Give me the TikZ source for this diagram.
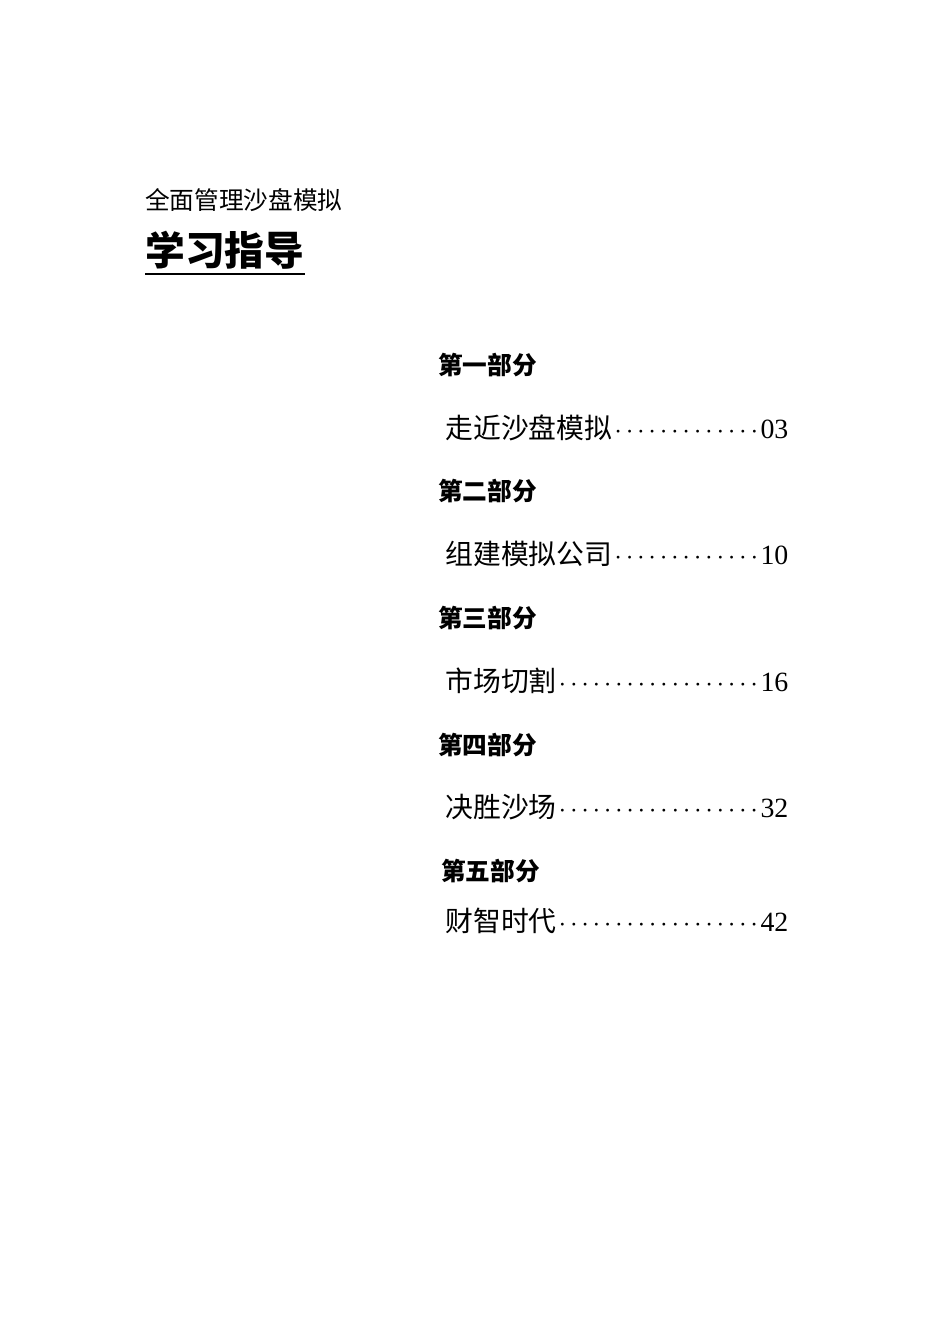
\documentclass[tikz,border=0pt]{standalone}
\usepackage{fontspec}
\setmainfont{Liberation Serif}
\newfontfamily\cjk{Noto Sans CJK SC}
\newcommand{\tocdots}{\xleaders\hbox to 0.24cm{\hss\textbf{$\cdot$}\hss}\hfill}
\begin{document}
\begin{tikzpicture}[x=0.0221cm,y=-0.0221cm,
  part/.style={anchor=west,inner sep=0pt,font=\cjk\bfseries\fontsize{15.5}{15.5}\selectfont},
  entry/.style={anchor=west,inner sep=0pt,font=\fontsize{17.5}{17.5}\selectfont}]
\useasboundingbox (0,0) rectangle (950,1344);

\node[anchor=west,inner sep=0pt,font=\cjk\fontsize{15.5}{15.5}\selectfont] (sub) at (145,200) {全面管理沙盘模拟};
\node[anchor=west,inner sep=0pt,font=\cjk\bfseries\fontsize{25}{25}\selectfont] (title) at (145,250) {学习指导};
\draw[line width=1.2pt] (title.south west) ++(0,-3pt) -- ++(305-145,0);

% parts
\node[part] (p1) at (438,365) {第一部分};
\node[entry] (e1) at (445,428) {\makebox[7.58cm][l]{{\cjk 走近沙盘模拟}\tocdots 03}};
\node[part] (p2) at (438,491) {第二部分};
\node[entry] (e2) at (445,554) {\makebox[7.58cm][l]{{\cjk 组建模拟公司}\tocdots 10}};
\node[part] (p3) at (438,618) {第三部分};
\node[entry] (e3) at (445,681) {\makebox[7.58cm][l]{{\cjk 市场切割}\tocdots 16}};
\node[part] (p4) at (438,745) {第四部分};
\node[entry] (e4) at (445,807) {\makebox[7.58cm][l]{{\cjk 决胜沙场}\tocdots 32}};
\node[part] (p5) at (441,871) {第五部分};
\node[entry] (e5) at (445,921) {\makebox[7.58cm][l]{{\cjk 财智时代}\tocdots 42}};
\end{tikzpicture}
\end{document}
